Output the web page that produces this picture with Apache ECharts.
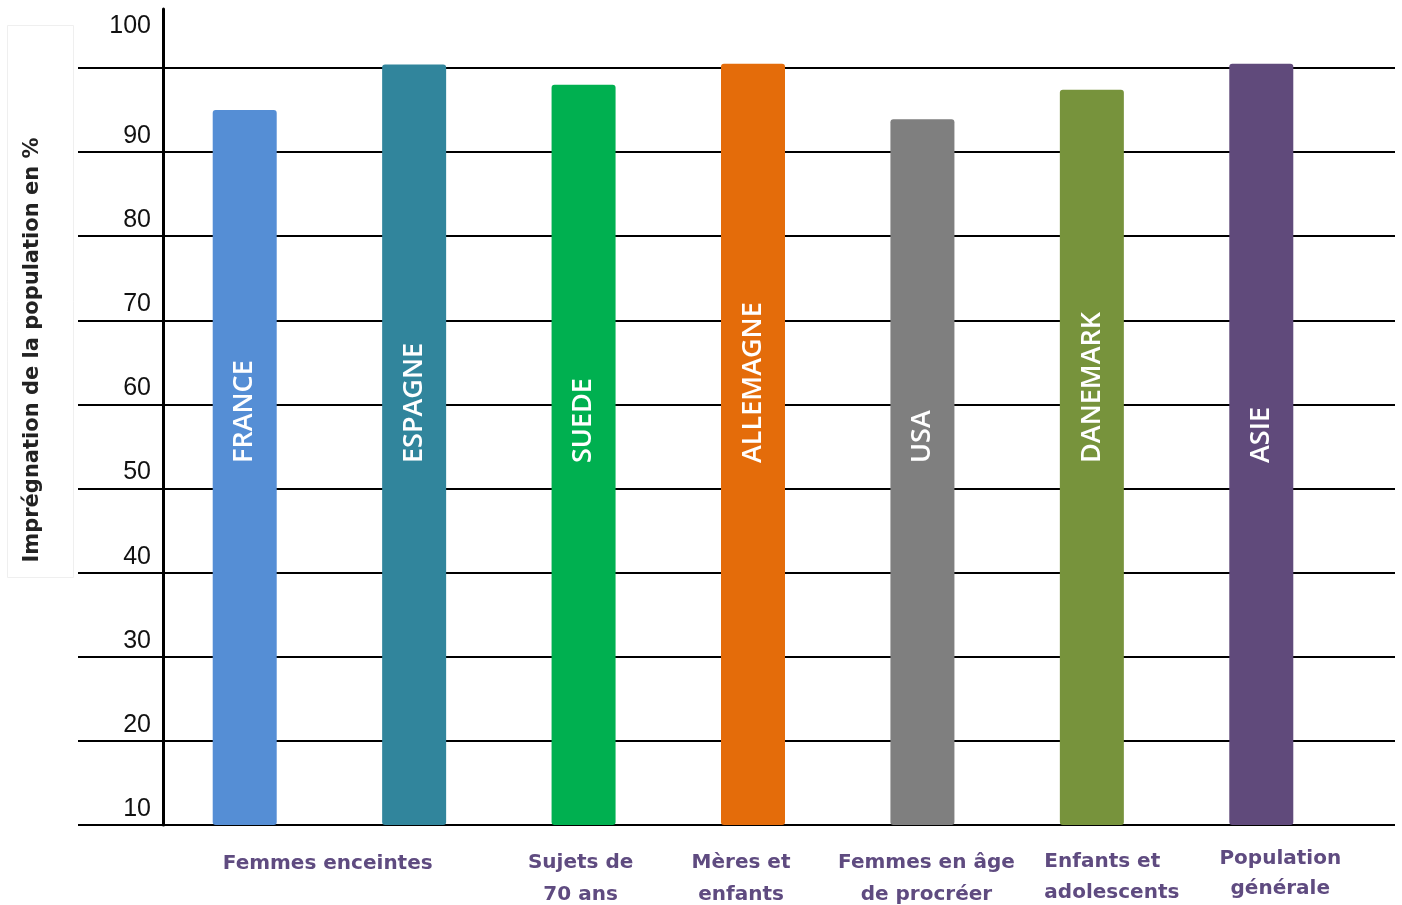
<!DOCTYPE html>
<html>
<head>
<meta charset="utf-8">
<script src="https://cdn.jsdelivr.net/npm/echarts@6/dist/echarts.min.js"></script>
<style>
html,body{margin:0;padding:0;background:#fff;}
#chart{width:1402px;height:905px;}
</style>
</head>
<body>
<div id="chart"></div>
<script>
// ---- data ----
const countries = ['FRANCE', 'ESPAGNE', 'SUEDE', 'ALLEMAGNE', 'USA', 'DANEMARK', 'ASIE'];
const populations = ['Femmes enceintes', 'Femmes enceintes', 'Sujets de\n70 ans', 'Mères et\nenfants', 'Femmes en âge\nde procréer', 'Enfants et\nadolescents', 'Population\ngénérale'];
const values = [95.0, 100.4, 98.0, 100.5, 93.9, 97.4, 100.5];
const barColors = ['#558ed5', '#31859c', '#00b050', '#e46c0a', '#7f7f7f', '#77933c', '#604a7b'];
const yAxisTitle = 'Imprégnation de la population en %';

// ---- layout tweaks (label nudges, px) ----
const labelShift = [83, 0, -3, -12, 4, 20, 19];
const lineH1 = [34, 32, 32, 32, 32, 30, 24];
const lineH2 = [32, 32, 32, 32, 32, 32, 36];
const labelAlign = [null, null, null, null, null, 'left', null];

const purple = '#5f4b80';
const rich = {};
for (let i = 0; i < countries.length; i++) {
  const d = labelShift[i];
  const pl = d > 0 ? 2 * d : 0, pr = d < 0 ? -2 * d : 0;
  const base = {fontFamily: 'DejaVu Sans', fontWeight: 'bold', fontSize: 20, color: purple, padding: [0, pr, 0, pl]};
  if (labelAlign[i]) base.align = labelAlign[i];
  rich['a' + i] = Object.assign({}, base, {lineHeight: lineH1[i]});
  rich['b' + i] = Object.assign({}, base, {lineHeight: lineH2[i]});
}

const chart = echarts.init(document.getElementById('chart'), null, {renderer: 'canvas'});
const tickFont = {fontFamily: 'Liberation Sans', fontSize: 25, color: '#111', lineHeight: 25};

chart.setOption({
  backgroundColor: '#fff',
  animation: false,
  graphic: [{
    type: 'rect', left: 5, top: 23, z: -10,
    shape: {width: 66, height: 552},
    style: {fill: 'none', stroke: '#efefef', lineWidth: 1}
  }],
  grid: [
    {left: 78, right: 7, top: 9, bottom: 80},
    {left: 160, right: 56, top: 9, bottom: 80}
  ],
  xAxis: [
    {gridIndex: 0, type: 'category', data: countries, show: false},
    {
      gridIndex: 1, type: 'category', data: countries,
      axisLine: {show: false}, axisTick: {show: false},
      axisLabel: {
        interval: 0, margin: 22,
        formatter: function (v, idx) {
          if (idx > 0 && populations[idx] === populations[idx - 1]) return '';
          return populations[idx].split('\n').map(function (s, k) {
            return '{' + (k === 0 ? 'a' : 'b') + idx + '|' + s + '}';
          }).join('\n');
        },
        rich: rich
      }
    }
  ],
  yAxis: [
    {
      gridIndex: 0, type: 'value', min: 10, max: 107, interval: 10, offset: -85,
      name: yAxisTitle, nameLocation: 'middle', nameRotate: 90, nameGap: 120,
      nameTextStyle: {fontFamily: 'DejaVu Sans', fontWeight: 'bold', fontSize: 21, color: '#222', padding: [0, 0, 0, 134]},
      axisLine: {show: true, lineStyle: {color: '#000', width: 3}},
      axisTick: {show: false},
      splitLine: {show: true, showMaxLine: false, lineStyle: {color: '#000', width: 2}},
      axisLabel: {
        margin: 12, verticalAlign: 'bottom',
        fontFamily: 'Liberation Sans', fontSize: 25, color: '#111',
        formatter: function (v) {
          if (v > 100) return '';
          return (v === 100 ? '{t|' : '{n|') + v + '}';
        },
        rich: {
          n: Object.assign({}, tickFont, {padding: [0, 0, 7, 0]}),
          t: Object.assign({}, tickFont, {padding: [0, 0, 59, 0]})
        }
      }
    },
    {gridIndex: 1, type: 'value', min: 10, max: 107, interval: 10, show: false, splitLine: {show: false}}
  ],
  series: [{
    type: 'bar',
    xAxisIndex: 1, yAxisIndex: 1,
    barWidth: 64,
    data: values.map(function (v, i) { return {value: v, itemStyle: {color: barColors[i]}}; }),
    itemStyle: {borderRadius: 3},
    label: {
      show: true,
      position: 'insideBottom',
      distance: 362,
      rotate: 90,
      align: 'left',
      verticalAlign: 'middle',
      color: '#fff',
      fontFamily: 'Open Sans',
      fontWeight: 600,
      fontSize: 27,
      formatter: function (p) { return countries[p.dataIndex]; }
    }
  }]
});
</script>
</body>
</html>
